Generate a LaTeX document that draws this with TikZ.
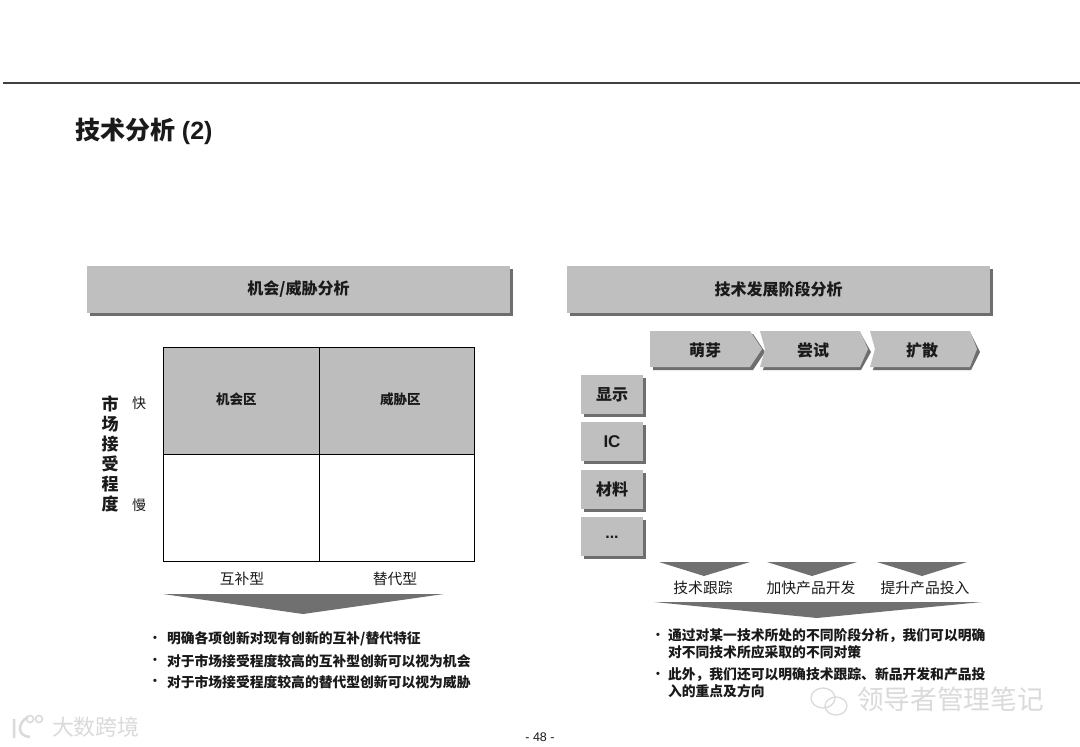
\documentclass[tikz,border=0pt]{standalone}
\usepackage{fontspec}
\setmainfont{Liberation Sans}
\newfontfamily\cjk{Noto Sans CJK SC}
\usetikzlibrary{shadows}
\definecolor{panel}{HTML}{BFBFBF}
\definecolor{edgeg}{HTML}{6E6E6E}
\definecolor{cell}{HTML}{BDBDBD}
\definecolor{tri}{HTML}{707070}
\definecolor{wm}{HTML}{DADADA}
\definecolor{ink}{HTML}{1A1A1A}
\tikzset{
  x=1pt,y=-1pt,
  every node/.style={inner sep=0pt,outer sep=0pt,text=ink},
  sh/.style={drop shadow={shadow xshift=3pt,shadow yshift=-3pt,fill=edgeg,opacity=1}},
  hdr/.style={fill=panel,sh,anchor=north west,minimum width=423pt,minimum height=47pt,font=\cjk\bfseries\fontsize{16}{18}\selectfont},
  side/.style={fill=panel,sh,anchor=north west,minimum width=62pt,minimum height=39pt,font=\cjk\bfseries\fontsize{16}{18}\selectfont},
  stagelbl/.style={font=\cjk\bfseries\fontsize{16}{18}\selectfont},
  chev/.style={fill=panel},
  chevs/.style={fill=edgeg},
  cellbox/.style={draw=black,line width=0.8pt,anchor=north west,font=\cjk\bfseries\fontsize{13.5}{16}\selectfont},
  axisl/.style={font=\cjk\fontsize{14}{16}\selectfont},
  ttl/.style={font=\cjk\bfseries\fontsize{17}{20}\selectfont},
  lbl/.style={font=\cjk\fontsize{14.8}{16}\selectfont},
  bul/.style={anchor=west,font=\cjk\bfseries\fontsize{13.8}{16}\selectfont},
  dot/.style={font=\bfseries\fontsize{11}{13}\selectfont},
  wmark/.style={font=\cjk\fontsize{22}{24}\selectfont,text=wm},
}
\begin{document}
\begin{tikzpicture}
\useasboundingbox (0,0) rectangle (1080,747);
\fill[white] (0,0) rectangle (1080,747);
% top rule
\coordinate (ruleL) at (3,83);
\coordinate (ruleR) at (1080,83);
\draw[line width=1.3pt,black!75] (ruleL) -- (ruleR);
\node[anchor=west,font=\bfseries\fontsize{25}{28}\selectfont] (title) at (75,131) {{\cjk 技术分析} (2)};
% headers
\node[hdr] (h1) at (87,266) {\raisebox{-1.5pt}{机会/威胁分析}};
\node[hdr] (h2) at (567,266) {\raisebox{-1.5pt}{技术发展阶段分析}};
% matrix
\node[cellbox,fill=cell,minimum width=156pt,minimum height=107.5pt] (c1) at (163,347) {};
\node[cellbox,fill=cell,minimum width=155pt,minimum height=107.5pt] (c2) at (319,347) {};
\node[cellbox,minimum width=156pt,minimum height=107pt] (c3) at (163,454.5) {};
\node[cellbox,minimum width=155pt,minimum height=107pt] (c4) at (319,454.5) {};
\node[cellbox,draw=none] (c1t) at (216,393) {机会区};
\node[cellbox,draw=none] (c2t) at (380,393) {威胁区};
\node[axisl] (fast) at (139,403) {快};
\node[axisl] (slow) at (139,505) {慢};
\node[ttl] (t1) at (110,404) {市};
\node[ttl] (t2) at (110,424) {场};
\node[ttl] (t3) at (110,444) {接};
\node[ttl] (t4) at (110,464) {受};
\node[ttl] (t5) at (110,484) {程};
\node[ttl] (t6) at (110,504) {度};
\node[lbl] (comp) at (242,579) {互补型};
\node[lbl] (subs) at (395,579) {替代型};
\fill[tri] (163,594) -- (444,594) -- (303,614) -- cycle;
% left bullets
\node[dot] at (155,639) {•};
\node[dot] at (155,661) {•};
\node[dot] at (155,682) {•};
\node[bul] (b1) at (167,639) {明确各项创新对现有创新的互补/替代特征};
\node[bul] (b2) at (167,661) {对于市场接受程度较高的互补型创新可以视为机会};
\node[bul] (b3) at (167,682) {对于市场接受程度较高的替代型创新可以视为威胁};
% chevrons
\fill[chevs] (653,334) -- (753,334) -- (765,352) -- (753,370) -- (653,370) -- cycle;
\fill[chev] (650,331) -- (750,331) -- (762,349) -- (750,367) -- (650,367) -- cycle;
\fill[chevs] (763,334) -- (861,334) -- (871,352) -- (861,370) -- (763,370) -- (768,352) -- cycle;
\fill[chev] (760,331) -- (860,331) -- (868,349) -- (860,367) -- (760,367) -- (765,349) -- cycle;
\fill[chevs] (873,334) -- (971,334) -- (980,352) -- (971,370) -- (873,370) -- (878,352) -- cycle;
\fill[chev] (870,331) -- (970,331) -- (977,349) -- (970,367) -- (870,367) -- (875,349) -- cycle;
\node[stagelbl] (s1) at (705,350) {萌芽};
\node[stagelbl] (s2) at (813,350) {尝试};
\node[stagelbl] (s3) at (922,350) {扩散};
% side boxes
\node[side] (r1) at (581,375) {显示};
\node[side] (r2) at (581,422) {\normalfont\bfseries\fontsize{17}{18}\selectfont IC};
\node[side] (r3) at (581,470) {材料};
\node[side] (r4) at (581,517) {\raisebox{-4pt}{\normalfont\bfseries ...}};
% small triangles
\fill[tri] (659,562) -- (750,562) -- (704,576) -- cycle;
\fill[tri] (767,562) -- (857,562) -- (812,576) -- cycle;
\fill[tri] (877,562) -- (967,562) -- (922,576) -- cycle;
\node[lbl] (a1) at (703,588) {技术跟踪};
\node[lbl] (a2) at (811,588) {加快产品开发};
\node[lbl] (a3) at (925,588) {提升产品投入};
\fill[tri] (654,602) -- (982,602) -- (817,618) -- cycle;
% right bullets
\node[dot] at (658,636) {•};
\node[dot] at (658,675) {•};
\node[bul] (d1) at (668,636) {通过对某一技术所处的不同阶段分析，我们可以明确};
\node[bul] (d2) at (668,652) {对不同技术所应采取的不同对策};
\node[bul] (d3) at (668,675) {此外，我们还可以明确技术跟踪、新品开发和产品投};
\node[bul] (d4) at (668,691) {入的重点及方向};
% page number
\node[font=\fontsize{12.5}{14}\selectfont] (pg) at (540,737) {- 48 -};
% watermarks
\node[wmark,anchor=west,font=\cjk\fontsize{22}{24}\selectfont] (wl) at (52,727) {大数跨境};
\draw[wm,line width=2.5pt] (14,719) -- (14,738) (28,717) .. controls (18,722) and (16,736) .. (30,737);
\draw[wm,line width=1.5pt] (30,719) circle (3.5) (39,719) circle (3.5);
\node[wmark,anchor=west,font=\cjk\fontsize{26.7}{30}\selectfont] (wr) at (857,699) {领导者管理笔记};
\draw[wm,line width=1.3pt] (823,698) ellipse (12 and 10) (836,706) ellipse (11 and 9);
\end{tikzpicture}
\end{document}
